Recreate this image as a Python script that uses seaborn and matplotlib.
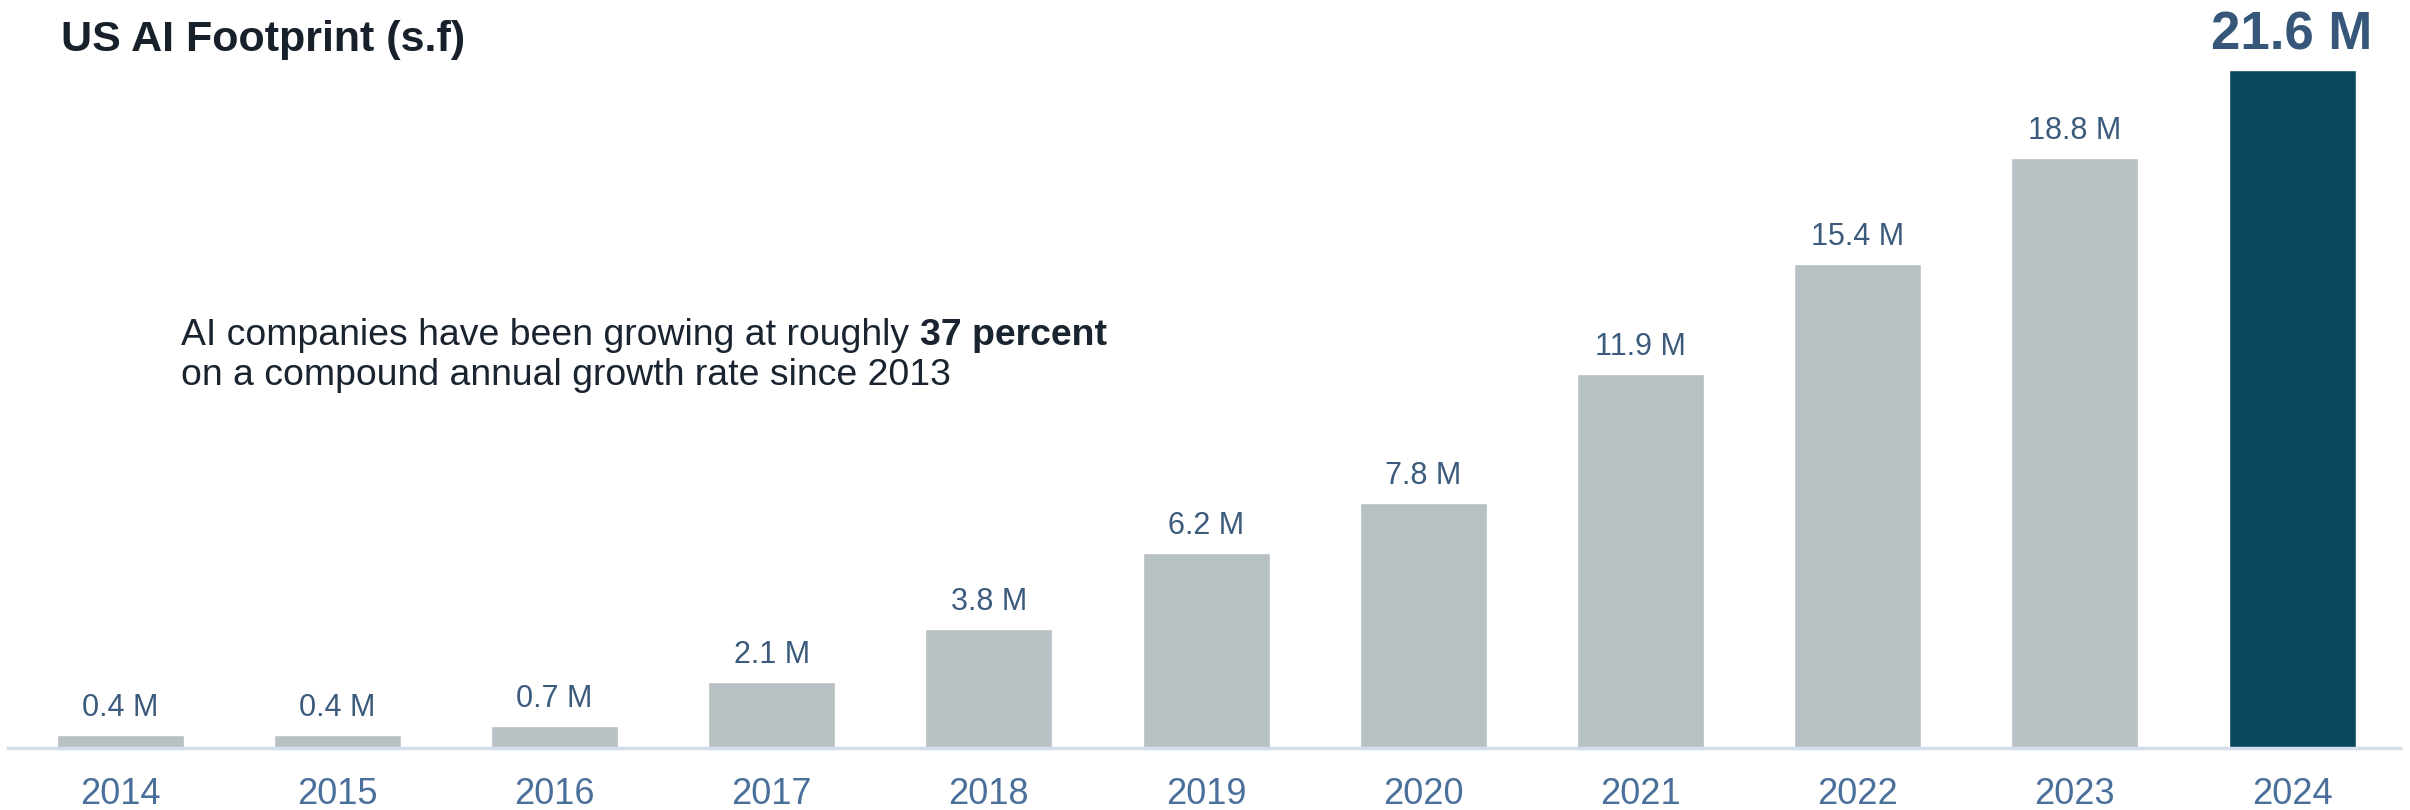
import matplotlib
matplotlib.use("Agg")
import matplotlib.pyplot as plt
import seaborn as sns
import pandas as pd

years = ["2014", "2015", "2016", "2017", "2018", "2019", "2020", "2021", "2022", "2023", "2024"]
values = [0.4, 0.4, 0.7, 2.1, 3.8, 6.2, 7.8, 11.9, 15.4, 18.8, 21.6]
labels = ["0.4 M", "0.4 M", "0.7 M", "2.1 M", "3.8 M", "6.2 M", "7.8 M", "11.9 M", "15.4 M", "18.8 M", "21.6 M"]
highlight = [False] * 10 + [True]

sns.set_theme(style="white")
plt.rcParams["font.family"] = ["Liberation Sans", "DejaVu Sans"]

W, H, DPI = 2410, 810, 100
fig = plt.figure(figsize=(W / DPI, H / DPI), dpi=DPI)
ax = fig.add_axes([8 / W, 62 / H, (2400 - 8) / W, (748 - 10) / H])

df = pd.DataFrame({"year": years, "value": values,
                   "grp": ["hi" if h else "lo" for h in highlight]})
sns.barplot(data=df, x="year", y="value", hue="grp",
            palette={"lo": "#b7c0c3", "hi": "#0b475e"},
            dodge=False, width=0.585, legend=False, ax=ax, saturation=1)

ax.set_xlim(-0.516, 10.497)
ax.set_ylim(0, 738 / 31.4)
for s in ["top", "right", "left"]:
    ax.spines[s].set_visible(False)
ax.spines["bottom"].set_color("#d3deea")
ax.spines["bottom"].set_linewidth(2.5)
ax.set_yticks([])
ax.set_xlabel("")
ax.set_ylabel("")
ax.tick_params(axis="x", length=0, pad=21, labelsize=26, labelcolor="#4a6f9a")

px = 1 / 31.4
for i, (v, lab, h) in enumerate(zip(values, labels, highlight)):
    if h:
        ax.text(i, v + 20 * px, lab, ha="center", va="baseline",
                fontsize=38, fontweight="bold", color="#36577a")
    else:
        ax.text(i, v + 19 * px, lab, ha="center", va="baseline",
                fontsize=22, color="#3b5a7c")

fig.text(61 / W, 1 - 51 / H, "US AI Footprint (s.f)", ha="left", va="baseline",
         fontsize=31, fontweight="bold", color="#17202b")

ann_size = 26.9
t1 = fig.text(181 / W, 1 - 345 / H, "AI companies have been growing at roughly ",
              ha="left", va="baseline", fontsize=ann_size, color="#1a2430")
fig.canvas.draw()
bb = t1.get_window_extent(renderer=fig.canvas.get_renderer())
fig.text(bb.x1 / W, 1 - 345 / H, "37 percent", ha="left", va="baseline",
         fontsize=ann_size, fontweight="bold", color="#1a2430")
fig.text(181 / W, 1 - 385 / H, "on a compound annual growth rate since 2013",
         ha="left", va="baseline", fontsize=ann_size, color="#1a2430")

fig.savefig("out.png", dpi=DPI)
